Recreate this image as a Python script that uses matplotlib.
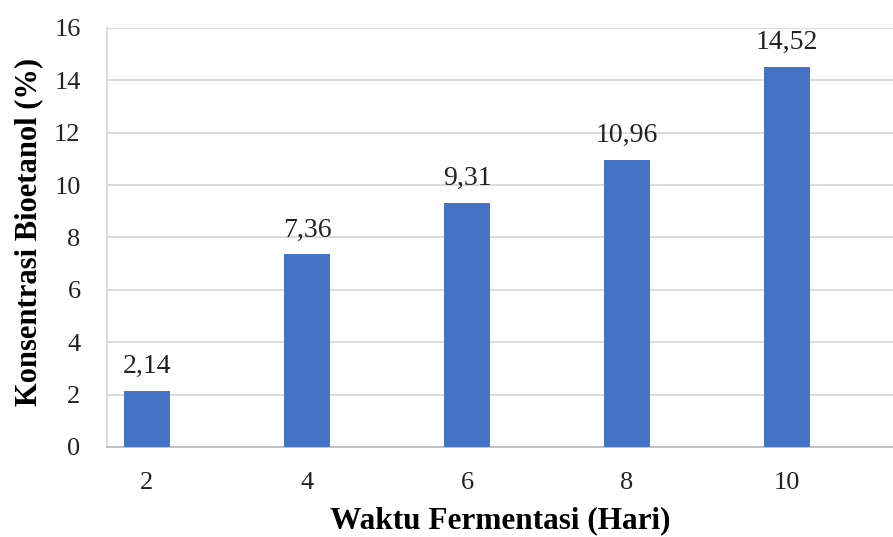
import matplotlib.pyplot as plt

hari = ['2', '4', '6', '8', '10']
konsentrasi = [2.14, 7.36, 9.31, 10.96, 14.52]
label_nilai = ['2,14', '7,36', '9,31', '10,96', '14,52']

plt.rcParams['font.family'] = 'Liberation Serif'

fig = plt.figure(figsize=(8.93, 5.37), dpi=100)
ax = fig.add_axes([0.1198, 0.1676, 0.8802, 0.7803])

pos = range(len(hari))
bars = ax.bar(pos, konsentrasi, width=0.29, color='#4472C4', zorder=3)
for b, t in zip(bars, label_nilai):
    ax.text(b.get_x() + b.get_width() / 2, b.get_height() + 0.45, t,
            ha='center', va='bottom', fontsize=20, color='#222222')

ax.set_xlim(-0.25, 4.6625)
ax.set_ylim(0, 16)
ax.set_yticks(range(0, 17, 2))
ax.set_xticks(list(pos))
ax.set_xticklabels(hari)
ax.tick_params(length=0, labelsize=19, colors='#222222')
ax.tick_params(axis='x', pad=18)
ax.tick_params(axis='y', pad=19)
ax.grid(axis='y', color='#D9D9D9', linewidth=1.3, zorder=0)

for s in ['top', 'right']:
    ax.spines[s].set_visible(False)
ax.spines['left'].set_color('#D9D9D9')
ax.spines['bottom'].set_color('#BFBFBF')
ax.spines['left'].set_linewidth(1.3)
ax.spines['bottom'].set_linewidth(1.3)

ax.set_xlabel('Waktu Fermentasi (Hari)', fontsize=22.5, fontweight='bold', labelpad=9)
ax.set_ylabel('Konsentrasi Bioetanol (%)', fontsize=22, fontweight='bold')
ax.yaxis.set_label_coords(-0.081, 0.513)

fig.savefig('out.png', dpi=100)
